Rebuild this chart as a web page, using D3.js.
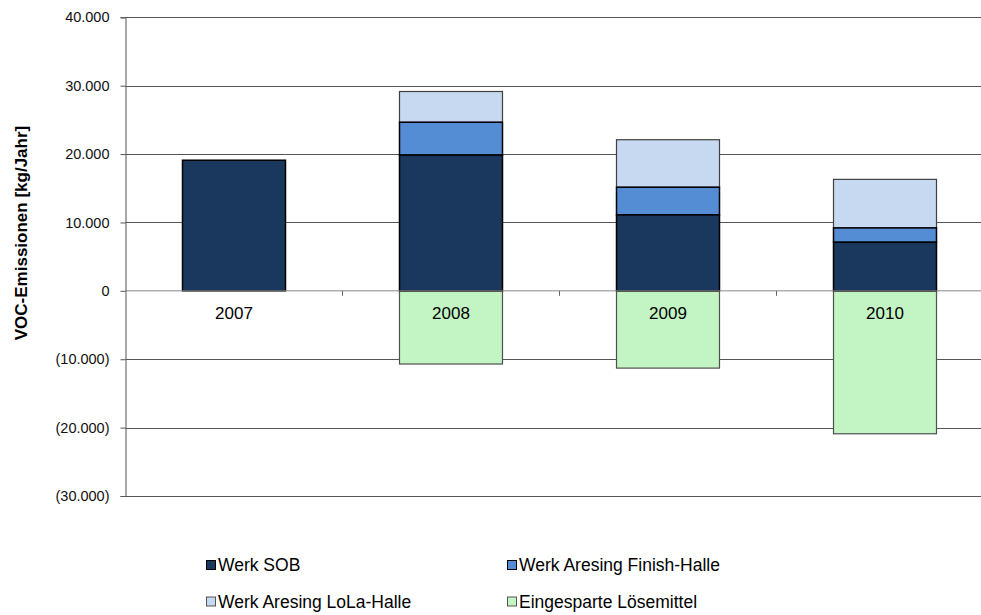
<!DOCTYPE html>
<html>
<head>
<meta charset="utf-8">
<script src="https://cdn.jsdelivr.net/npm/d3@7"></script>
<style>
  html, body { margin: 0; padding: 0; background: #fff; }
  svg { display: block; font-family: "Liberation Sans", Arial, sans-serif; }
</style>
</head>
<body>
<svg id="chart" width="981" height="615"></svg>
<script>
// VOC emissions per year, kg/Jahr
const years = ["2007", "2008", "2009", "2010"];
const werkSOB = [19100, 19850, 11100, 7100];
const finishHalle = [0, 4800, 4050, 2100];
const lolaHalle = [0, 4500, 6950, 7100];
const eingespart = [0, -10700, -11300, -20900];
const yTicks = [40000, 30000, 20000, 10000, 0, -10000, -20000, -30000];

const seriesNames = ["Werk SOB", "Werk Aresing Finish-Halle", "Werk Aresing LoLa-Halle", "Eingesparte Lösemittel"];
const seriesColors = ["#1a375e", "#548dd4", "#c6d9f1", "#c3f4c3"];
const seriesStroke = ["#000000", "#000000", "#404040", "#505050"];

const svg = d3.select("#chart");
const plotLeft = 125.5, plotRight = 993.5, plotTop = 17.3, plotBottom = 496;

const x = d3.scaleBand().domain(years).range([plotLeft, plotRight]).paddingInner(0).paddingOuter(0);
const y = d3.scaleLinear().domain([-30000, 40000]).range([plotBottom, plotTop]);

const fmt = v => {
  const s = d3.format(",")(Math.abs(v)).replace(/,/g, ".");
  return v < 0 ? "(" + s + ")" : s;
};

// horizontal gridlines
svg.append("g")
  .selectAll("line")
  .data(yTicks.filter(t => t !== 0))
  .join("line")
  .attr("x1", plotLeft).attr("x2", 981)
  .attr("y1", d => Math.round(y(d)) + 0.5).attr("y2", d => Math.round(y(d)) + 0.5)
  .attr("stroke", "#555").attr("stroke-width", 1);

// stacked positive segments + negative savings
const stackRows = years.map((yr, i) => ({
  year: yr,
  segs: [
    { s: 0, y0: 0, y1: werkSOB[i] },
    { s: 1, y0: werkSOB[i], y1: werkSOB[i] + finishHalle[i] },
    { s: 2, y0: werkSOB[i] + finishHalle[i], y1: werkSOB[i] + finishHalle[i] + lolaHalle[i] },
    { s: 3, y0: eingespart[i], y1: 0 }
  ].filter(d => d.y1 !== d.y0)
}));

const barW = 103;
const g = svg.append("g");
stackRows.forEach(row => {
  const bx = x(row.year) + (x.bandwidth() - barW) / 2;
  // draw lighter segments first so the dark outlines stay on top
  const order = row.segs.slice().sort((a, b) => b.s - a.s);
  g.append("g").selectAll("rect")
    .data(order)
    .join("rect")
    .attr("x", bx)
    .attr("width", barW)
    .attr("y", d => y(d.y1))
    .attr("height", d => y(d.y0) - y(d.y1))
    .attr("fill", d => seriesColors[d.s])
    .attr("stroke", d => seriesStroke[d.s])
    .attr("stroke-width", d => d.s < 2 ? 1.5 : 1.2);
});

// zero line
svg.append("line")
  .attr("x1", plotLeft).attr("x2", 981)
  .attr("y1", y(0)).attr("y2", y(0))
  .attr("stroke", "#888").attr("stroke-width", 1);

// category ticks on zero line
svg.append("g")
  .selectAll("line")
  .data(years.slice(1))
  .join("line")
  .attr("x1", d => x(d)).attr("x2", d => x(d))
  .attr("y1", y(0)).attr("y2", y(0) + 5)
  .attr("stroke", "#666");

// category labels
svg.append("g")
  .selectAll("text")
  .data(years)
  .join("text")
  .attr("x", d => x(d) + x.bandwidth() / 2)
  .attr("y", y(0) + 28)
  .attr("text-anchor", "middle")
  .attr("font-size", 17)
  .attr("fill", "#000")
  .text(d => d);

// y axis
const yAxis = d3.axisLeft(y).tickValues(yTicks).tickSize(5).tickPadding(11).tickFormat(fmt);
const ga = svg.append("g").attr("transform", `translate(${plotLeft},0)`).call(yAxis);
ga.select(".domain").attr("stroke", "#555");
ga.selectAll(".tick line").attr("stroke", "#555");
ga.selectAll(".tick text").attr("font-size", 14.5).attr("fill", "#111")
  .attr("font-family", "'Liberation Sans', Arial, sans-serif");

// y title
svg.append("text")
  .attr("transform", "translate(26.5,233) rotate(-90)")
  .attr("text-anchor", "middle")
  .attr("font-size", 17)
  .attr("font-weight", "bold")
  .text("VOC-Emissionen [kg/Jahr]");

// legend
const legendPos = [[206, 571], [507, 571], [206, 607.5], [507, 607.5]];
const lg = svg.append("g")
  .selectAll("g")
  .data(seriesNames)
  .join("g")
  .attr("transform", (d, i) => `translate(${legendPos[i][0]},${legendPos[i][1]})`);
lg.append("rect")
  .attr("x", 0.5).attr("y", -10.5).attr("width", 9).attr("height", 9)
  .attr("fill", (d, i) => seriesColors[i])
  .attr("stroke", (d, i) => i < 2 ? "#000" : "#555");
lg.append("text")
  .attr("x", 12).attr("y", 0)
  .attr("font-size", 17.5)
  .text(d => d);
</script>
</body>
</html>
